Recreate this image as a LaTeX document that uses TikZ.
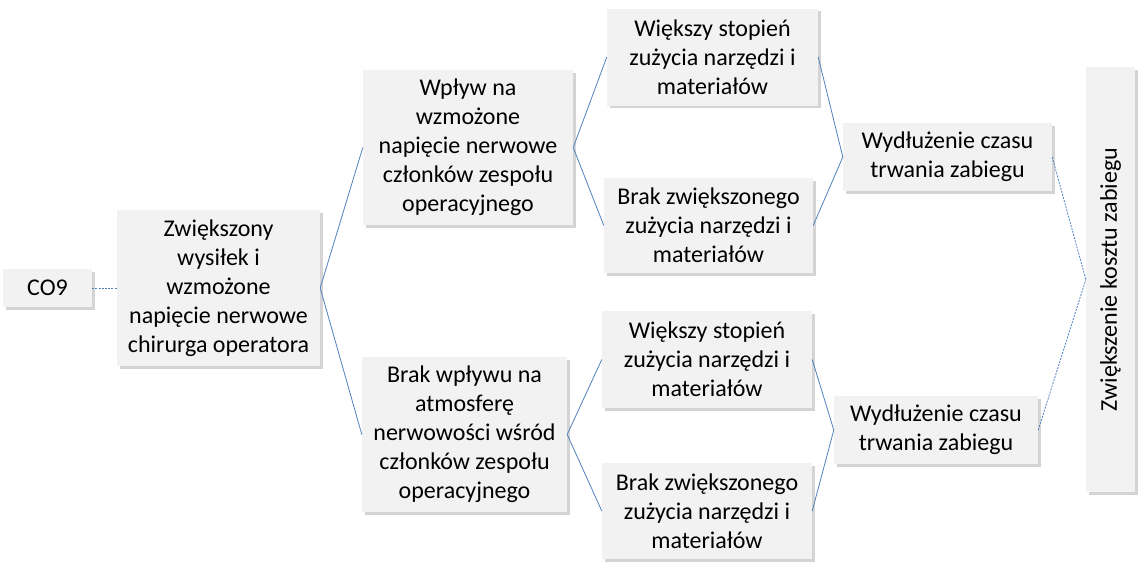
\documentclass[tikz,border=0pt]{standalone}
\usepackage{fontspec}
\setmainfont{Carlito}
\usetikzlibrary{shadows}
\definecolor{boxfill}{HTML}{F2F2F2}
\definecolor{linkblue}{HTML}{4F81BD}
\tikzset{
  card/.style={draw=none, fill=boxfill, inner sep=0pt, align=center,
    font=\fontsize{24}{29}\selectfont,
    drop shadow={shadow xshift=2.5pt, shadow yshift=-2.5pt, opacity=0.28, fill=black!60}},
  link/.style={draw=linkblue, line width=0.8pt},
  dlink/.style={draw=linkblue, line width=0.8pt, dash pattern=on 2pt off 1.2pt},
}
\begin{document}
\begin{tikzpicture}[x=1pt,y=-1pt]
\useasboundingbox (0,0) rectangle (1148,574);
\node[card, minimum width=89pt, minimum height=38pt] (co) at (47.5,288) {CO9};
\node[card, minimum width=203pt, minimum height=156pt] (b1) at (218.5,288)
  {Zwiększony\\wysiłek i\\wzmożone\\napięcie nerwowe\\chirurga operatora};
\node[card, minimum width=210pt, minimum height=155pt] (b2) at (468,147.5)
  {Wpływ na\\wzmożone\\napięcie nerwowe\\członków zespołu\\operacyjnego};
\node[card, minimum width=205pt, minimum height=155pt] (b3) at (464.5,434.5)
  {Brak wpływu na\\atmosferę\\nerwowości wśród\\członków zespołu\\operacyjnego};
\node[card, minimum width=211pt, minimum height=97pt] (b4) at (712.5,57)
  {Większy stopień\\zużycia narzędzi i\\materiałów};
\node[card, minimum width=209pt, minimum height=95pt] (b5) at (708.5,225.5)
  {Brak zwiększonego\\zużycia narzędzi i\\materiałów};
\node[card, minimum width=210pt, minimum height=97pt] (b6) at (707,359.5)
  {Większy stopień\\zużycia narzędzi i\\materiałów};
\node[card, minimum width=210pt, minimum height=96pt] (b7) at (707,511)
  {Brak zwiększonego\\zużycia narzędzi i\\materiałów};
\node[card, minimum width=209pt, minimum height=68pt] (b8) at (947.5,157)
  {Wydłużenie czasu\\trwania zabiegu};
\node[card, minimum width=204pt, minimum height=68pt] (b9) at (936,430)
  {Wydłużenie czasu\\trwania zabiegu};
\node[card, minimum width=49pt, minimum height=425pt] (b10) at (1110.5,279.5)
  {\rotatebox{90}{Zwiększenie kosztu zabiegu}};
\draw[dlink] (co.east) -- (b1.west);
\draw[link] (b1.east) -- (b2.west);
\draw[link] (b1.east) -- (b3.west);
\draw[link] (b2.east) -- (b4.west);
\draw[link] (b2.east) -- (b5.west);
\draw[link] (b3.east) -- (b6.west);
\draw[link] (b3.east) -- (b7.west);
\draw[link] (b4.east) -- (b8.west);
\draw[link] (b5.east) -- (b8.west);
\draw[link] (b6.east) -- (b9.west);
\draw[link] (b7.east) -- (b9.west);
\draw[dlink] (b8.east) -- (b10.west);
\draw[dlink] (b9.east) -- (b10.west);
\end{tikzpicture}
\end{document}
